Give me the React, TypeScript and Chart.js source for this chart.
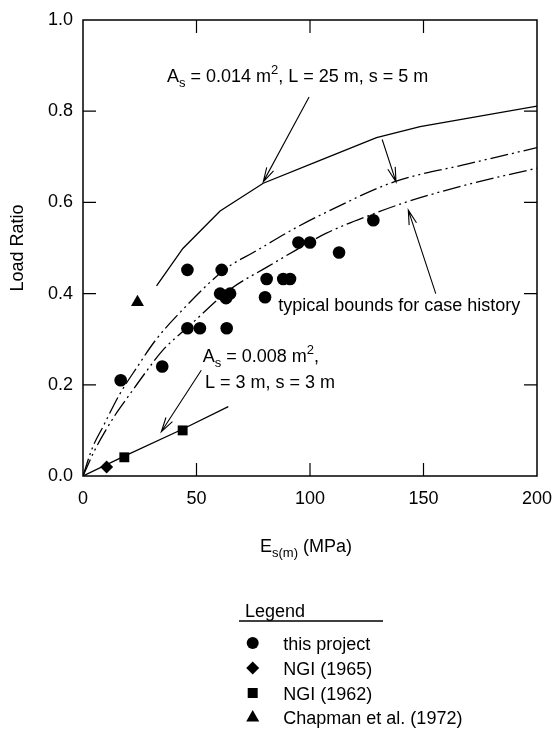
import React, { useEffect, useRef } from 'react';
import { Chart, registerables } from 'chart.js';

Chart.register(...registerables);

const FONT = '"Liberation Sans", Arial, Helvetica, sans-serif';

// ---- data ----
const projectX = [16.6, 34.9, 46, 51.5, 63.3, 46, 61.1, 60.4, 63, 64.8, 80.2, 80.9, 88.2, 91.2, 94.9, 100, 112.8, 127.9];
const projectY = [0.21, 0.24, 0.324, 0.324, 0.324, 0.452, 0.452, 0.40, 0.39, 0.40, 0.392, 0.432, 0.432, 0.432, 0.512, 0.512, 0.49, 0.561];
const ngi1965X = [10.4];
const ngi1965Y = [0.02];
const ngi1962X = [18.2, 43.9];
const ngi1962Y = [0.041, 0.10];
const chapmanX = [24];
const chapmanY = [0.381];

const upperSolidX = [32.4, 44, 60.4, 79.4, 104.4, 129.3, 148.5, 200];
const upperSolidY = [0.417, 0.499, 0.581, 0.642, 0.692, 0.742, 0.766, 0.811];
const upperBoundX = [0, 4, 9, 16, 24, 32, 43, 63, 75, 94, 107, 137, 170, 200];
const upperBoundY = [0, 0.06, 0.11, 0.178, 0.24, 0.298, 0.36, 0.455, 0.49, 0.545, 0.578, 0.645, 0.685, 0.72];
const lowerBoundX = [0, 5, 10, 15, 20, 28, 35, 47, 65, 81, 94, 107, 128, 142, 170, 200];
const lowerBoundY = [0, 0.055, 0.1, 0.14, 0.175, 0.23, 0.275, 0.33, 0.41, 0.458, 0.496, 0.532, 0.575, 0.6, 0.64, 0.675];
const lowerSolidX = [0, 18, 44, 64];
const lowerSolidY = [0, 0.043, 0.103, 0.152];

const xTicks = [0, 50, 100, 150, 200];
const yTicks = [0, 0.2, 0.4, 0.6, 0.8, 1.0];

// arrows: [fromX, fromY, toX, toY] in data units
const arrowFromX = [99.6, 131.8, 155.4, 52.1];
const arrowFromY = [0.831, 0.738, 0.4, 0.232];
const arrowToX = [79.4, 137.9, 143.3, 34.5];
const arrowToY = [0.645, 0.645, 0.583, 0.097];

const legendLabels = ['this project', 'NGI (1965)', 'NGI (1962)', 'Chapman et al. (1972)'];
const legendShapes = ['circle', 'diamond', 'square', 'triangle'];

type Part = { t: string; m?: 'sub' | 'sup' };

function partFont(m?: string) {
  return m ? `13px ${FONT}` : `18px ${FONT}`;
}
function richWidth(ctx: CanvasRenderingContext2D, parts: Part[]) {
  let w = 0;
  for (const p of parts) {
    ctx.font = partFont(p.m);
    w += ctx.measureText(p.t).width;
  }
  return w;
}
function drawRich(ctx: CanvasRenderingContext2D, parts: Part[], x: number, y: number) {
  ctx.textAlign = 'left';
  ctx.textBaseline = 'alphabetic';
  let cx = x;
  for (const p of parts) {
    ctx.font = partFont(p.m);
    const dy = p.m === 'sub' ? 5 : p.m === 'sup' ? -8 : 0;
    ctx.fillText(p.t, cx, y + dy);
    cx += ctx.measureText(p.t).width;
  }
}

function drawShape(ctx: CanvasRenderingContext2D, shape: string, x: number, y: number) {
  ctx.beginPath();
  if (shape === 'circle') {
    ctx.arc(x, y, 6, 0, Math.PI * 2);
  } else if (shape === 'diamond') {
    ctx.moveTo(x, y - 6.5);
    ctx.lineTo(x + 6.5, y);
    ctx.lineTo(x, y + 6.5);
    ctx.lineTo(x - 6.5, y);
    ctx.closePath();
  } else if (shape === 'square') {
    ctx.rect(x - 5, y - 5, 10, 10);
  } else {
    ctx.moveTo(x, y - 7);
    ctx.lineTo(x + 6.5, y + 4.5);
    ctx.lineTo(x - 6.5, y + 4.5);
    ctx.closePath();
  }
  ctx.fill();
}

const decor = {
  id: 'decor',
  beforeDraw(chart: any) {
    const { ctx, width, height } = chart;
    ctx.save();
    ctx.fillStyle = '#fff';
    ctx.fillRect(0, 0, width, height);
    ctx.restore();
  },
  afterDraw(chart: any) {
    const { ctx, chartArea } = chart;
    const xs = chart.scales.x;
    const ys = chart.scales.y;
    const { left, right, top, bottom } = chartArea;
    ctx.save();
    ctx.strokeStyle = '#000';
    ctx.fillStyle = '#000';
    // frame
    ctx.lineWidth = 1.5;
    ctx.strokeRect(left, top, right - left, bottom - top);
    // inner ticks on all sides
    ctx.lineWidth = 1.2;
    const tl = 13;
    xTicks.slice(1, -1).forEach((v) => {
      const px = xs.getPixelForValue(v);
      ctx.beginPath();
      ctx.moveTo(px, bottom);
      ctx.lineTo(px, bottom - tl);
      ctx.moveTo(px, top);
      ctx.lineTo(px, top + tl);
      ctx.stroke();
    });
    yTicks.slice(1, -1).forEach((v) => {
      const py = ys.getPixelForValue(v);
      ctx.beginPath();
      ctx.moveTo(left, py);
      ctx.lineTo(left + tl, py);
      ctx.moveTo(right, py);
      ctx.lineTo(right - tl, py);
      ctx.stroke();
    });

    // arrows
    ctx.lineWidth = 1.1;
    arrowFromX.forEach((fx, i) => {
      const x1 = xs.getPixelForValue(fx);
      const y1 = ys.getPixelForValue(arrowFromY[i]);
      const x2 = xs.getPixelForValue(arrowToX[i]);
      const y2 = ys.getPixelForValue(arrowToY[i]);
      const ang = Math.atan2(y2 - y1, x2 - x1);
      const hl = 15;
      const ha = 0.26;
      ctx.beginPath();
      ctx.moveTo(x1, y1);
      ctx.lineTo(x2, y2);
      ctx.moveTo(x2 - hl * Math.cos(ang - ha), y2 - hl * Math.sin(ang - ha));
      ctx.lineTo(x2, y2);
      ctx.lineTo(x2 - hl * Math.cos(ang + ha), y2 - hl * Math.sin(ang + ha));
      ctx.stroke();
    });

    // annotations
    drawRich(
      ctx,
      [{ t: 'A' }, { t: 's', m: 'sub' }, { t: ' = 0.014 m' }, { t: '2', m: 'sup' }, { t: ', L = 25 m, s = 5 m' }],
      xs.getPixelForValue(37),
      ys.getPixelForValue(0.864)
    );
    drawRich(ctx, [{ t: 'typical bounds for case history' }], xs.getPixelForValue(86), ys.getPixelForValue(0.361));
    drawRich(
      ctx,
      [{ t: 'A' }, { t: 's', m: 'sub' }, { t: ' = 0.008 m' }, { t: '2', m: 'sup' }, { t: ',' }],
      xs.getPixelForValue(52.7),
      ys.getPixelForValue(0.25)
    );
    drawRich(ctx, [{ t: 'L = 3 m, s = 3 m' }], xs.getPixelForValue(53.7), ys.getPixelForValue(0.192));

    // x axis title
    const xt: Part[] = [{ t: 'E' }, { t: 's(m)', m: 'sub' }, { t: ' (MPa)' }];
    const w = richWidth(ctx, xt);
    drawRich(ctx, xt, 306 - w / 2, 552);

    // legend
    ctx.font = `18px ${FONT}`;
    ctx.fillText('Legend', 245, 617);
    ctx.lineWidth = 1.3;
    ctx.beginPath();
    ctx.moveTo(239, 621);
    ctx.lineTo(383, 621);
    ctx.stroke();
    const baselines = [650, 675, 700, 724];
    legendLabels.forEach((lab, i) => {
      drawShape(ctx, legendShapes[i], 252.7, baselines[i] - 7);
      ctx.font = `18px ${FONT}`;
      ctx.textAlign = 'left';
      ctx.textBaseline = 'alphabetic';
      ctx.fillText(lab, 283.3, baselines[i]);
    });
    ctx.restore();
  },
};

function pts(xs: number[], ys: number[]) {
  return xs.map((x, i) => ({ x, y: ys[i] }));
}

export default function App() {
  const ref = useRef<HTMLCanvasElement>(null);
  useEffect(() => {
    const canvas = ref.current!;
    Chart.defaults.font.family = FONT;
    const lineBase = {
      showLine: true,
      pointRadius: 0,
      pointHoverRadius: 0,
      borderColor: '#000',
      backgroundColor: '#000',
      borderWidth: 1.3,
      fill: false,
    };
    const markBase = {
      showLine: false,
      backgroundColor: '#000',
      borderColor: '#000',
      borderWidth: 0,
    };
    const chart = new Chart(canvas, {
      type: 'scatter',
      data: {
        datasets: [
          { ...markBase, label: 'this project', data: pts(projectX, projectY), pointStyle: 'circle', pointRadius: 6.3 },
          { ...markBase, label: 'NGI (1965)', data: pts(ngi1965X, ngi1965Y), pointStyle: 'rectRot', pointRadius: 6.5 },
          { ...markBase, label: 'NGI (1962)', data: pts(ngi1962X, ngi1962Y), pointStyle: 'rect', pointRadius: 7 },
          { ...markBase, label: 'Chapman et al. (1972)', data: pts(chapmanX, chapmanY), pointStyle: 'triangle', pointRadius: 7.5 },
          { ...lineBase, label: 'upper', data: pts(upperSolidX, upperSolidY), tension: 0 },
          { ...lineBase, label: 'upper bound', data: pts(upperBoundX, upperBoundY), cubicInterpolationMode: 'monotone', borderDash: [18, 4, 2, 4, 2, 4] },
          { ...lineBase, label: 'lower bound', data: pts(lowerBoundX, lowerBoundY), cubicInterpolationMode: 'monotone', borderDash: [18, 4, 2, 4, 2, 4] },
          { ...lineBase, label: 'lower', data: pts(lowerSolidX, lowerSolidY), tension: 0 },
        ] as any,
      },
      options: {
        responsive: false,
        devicePixelRatio: 1,
        animation: false,
        events: [],
        layout: { padding: { left: 0, top: 20, right: 18, bottom: 213 } },
        plugins: { legend: { display: false }, tooltip: { enabled: false } },
        scales: {
          x: {
            type: 'linear',
            min: 0,
            max: 200,
            afterBuildTicks: (s: any) => {
              s.ticks = xTicks.map((v) => ({ value: v }));
            },
            ticks: { color: '#000', font: { size: 18 }, padding: 12, maxRotation: 0 },
            grid: { display: false, drawTicks: false },
            border: { display: false },
            afterFit: (s: any) => {
              s.height = 40;
              s.paddingLeft = 0;
              s.paddingRight = 0;
            },
          },
          y: {
            type: 'linear',
            min: 0,
            max: 1,
            afterBuildTicks: (s: any) => {
              s.ticks = yTicks.map((v) => ({ value: v }));
            },
            ticks: { color: '#000', font: { size: 18 }, padding: 10, callback: (v: any) => Number(v).toFixed(1) },
            grid: { display: false, drawTicks: false },
            border: { display: false },
            title: { display: true, text: 'Load Ratio', color: '#000', font: { size: 18 }, padding: { top: 7, bottom: 0 } },
            afterFit: (s: any) => {
              s.width = 83;
              s.paddingTop = 0;
              s.paddingBottom = 0;
            },
          },
        },
      } as any,
      plugins: [decor],
    });
    return () => chart.destroy();
  }, []);
  return (
    <div style={{ position: 'absolute', left: 0, top: 0, width: 555, height: 729, background: '#fff' }}>
      <canvas ref={ref} width={555} height={729} style={{ display: 'block', width: 555, height: 729 }} />
    </div>
  );
}
